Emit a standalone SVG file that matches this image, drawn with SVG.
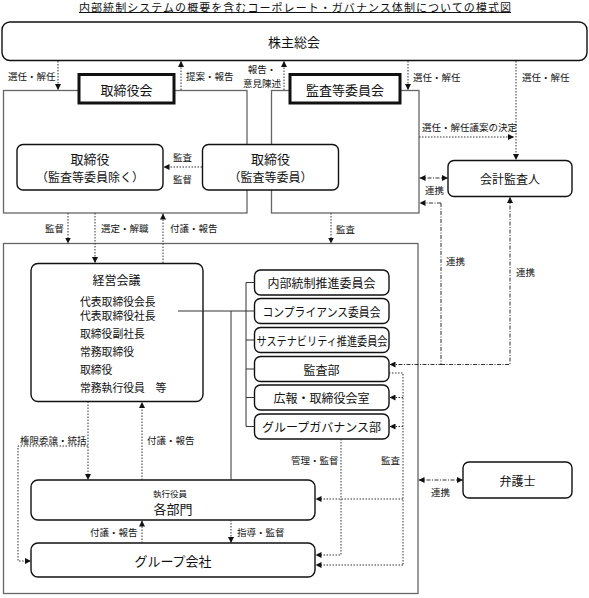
<svg xmlns="http://www.w3.org/2000/svg" width="589" height="598" viewBox="0 0 589 598">
<style>
text{font-family:"Noto Sans CJK JP","Noto Sans",sans-serif;fill:#111;dominant-baseline:central}
.t{font-size:10.8px}
.lbl{font-size:9.5px;text-anchor:start}
.m{text-anchor:middle}
.b13{font-size:13px;text-anchor:middle}
.b12{font-size:12px;text-anchor:middle}
.cont{fill:#fff;stroke:#666;stroke-width:1.3}
.head{fill:#fff;stroke:#111;stroke-width:3}
.node{fill:#fff;stroke:#111;stroke-width:1.4}
.dot{fill:none;stroke:#333;stroke-width:1;stroke-dasharray:1.5 1.5}
.dd{fill:none;stroke:#333;stroke-width:1;stroke-dasharray:4 1.5 1 1.5}
.sol{fill:none;stroke:#333;stroke-width:1}
</style>
<defs>
<marker id="ah" viewBox="0 0 6 6" refX="6" refY="3" markerWidth="6" markerHeight="6" markerUnits="userSpaceOnUse" orient="auto-start-reverse"><path d="M0,0 L6,3 L0,6 z" fill="#111"/></marker>
</defs>

<g id="title">
<text x="295" y="6.5" class="m" font-size="11" textLength="432" lengthAdjust="spacing">内部統制システムの概要を含むコーポレート・ガバナンス体制についての模式図</text>
<line x1="79" y1="12.5" x2="511" y2="12.5" stroke="#111" stroke-width="1"/>
</g>

<g id="shareholders">
<rect x="2" y="22" width="585" height="38.5" rx="8" class="node" stroke-width="2"/>
<text x="294" y="41" class="b13">株主総会</text>
</g>

<g id="board-container">
<rect x="3.5" y="90.5" width="243.5" height="122.5" class="cont"/>
</g>
<g id="board-head">
<rect x="79" y="74.5" width="95" height="28.5" class="head"/>
<text x="126.5" y="89" class="b13">取締役会</text>
</g>
<g id="audit-container">
<rect x="271.5" y="90.5" width="147.5" height="122.5" class="cont"/>
</g>
<g id="audit-head">
<rect x="290" y="74.5" width="110" height="28.5" class="head"/>
<text x="345" y="89" class="b13">監査等委員会</text>
</g>

<g id="directors">
<rect x="17" y="144.5" width="146" height="45.5" rx="6" class="node"/>
<text x="90" y="158.5" class="b13">取締役</text>
<text x="90" y="176.5" class="b12" font-size="11">（監査等委員除く）</text>
</g>
<g id="audit-directors">
<rect x="202.5" y="144.5" width="136" height="45.5" rx="6" class="node"/>
<text x="270.5" y="158.5" class="b13">取締役</text>
<text x="270.5" y="176.5" class="b12" font-size="11">（監査等委員）</text>
</g>

<g id="auditor">
<rect x="448" y="160.5" width="124" height="36" rx="6" class="node"/>
<text x="510" y="178.5" class="b12">会計監査人</text>
</g>

<g id="exec-container">
<rect x="3.5" y="243.5" width="414.5" height="350" class="cont"/>
</g>

<g id="mgmt-meeting">
<rect x="31" y="263.5" width="172" height="138" rx="7" class="node"/>
<text x="116.5" y="279" class="b12" font-size="12.5">経営会議</text>
<text x="80" y="301" class="t">代表取締役会長</text>
<text x="80" y="315" class="t">代表取締役社長</text>
<text x="80" y="332.5" class="t">取締役副社長</text>
<text x="80" y="350.5" class="t">常務取締役</text>
<text x="80" y="368.5" class="t">取締役</text>
<text x="80" y="386.5" class="t">常務執行役員　等</text>
</g>

<g id="c1"><rect x="254.5" y="270" width="134.5" height="25" rx="6" class="node"/><text x="321.5" y="282.5" class="b12">内部統制推進委員会</text></g>
<g id="c2"><rect x="254.5" y="298.5" width="134.5" height="25" rx="6" class="node"/><text x="321.5" y="311" class="b12" textLength="118" lengthAdjust="spacingAndGlyphs">コンプライアンス委員会</text></g>
<g id="c3"><rect x="254.5" y="327.5" width="134.5" height="25" rx="6" class="node"/><text x="322" y="340" class="b12" textLength="131" lengthAdjust="spacingAndGlyphs">サステナビリティ推進委員会</text></g>
<g id="c4"><rect x="254.5" y="356.5" width="134.5" height="25" rx="6" class="node"/><text x="321.5" y="369" class="b12">監査部</text></g>
<g id="c5"><rect x="254.5" y="385" width="134.5" height="25" rx="6" class="node"/><text x="321.5" y="397.5" class="b12">広報・取締役会室</text></g>
<g id="c6"><rect x="254.5" y="414" width="134.5" height="25" rx="6" class="node"/><text x="321.5" y="426.5" class="b12">グループガバナンス部</text></g>

<g id="divisions">
<rect x="31" y="480" width="284" height="40" rx="7" class="node"/>
<text x="170" y="492.5" class="m" font-size="8.5">執行役員</text>
<text x="173" y="508" class="b13">各部門</text>
</g>
<g id="group-companies">
<rect x="31" y="543" width="284" height="34" rx="7" class="node"/>
<text x="173" y="560" class="b13" font-size="12.5">グループ会社</text>
</g>
<g id="lawyer">
<rect x="463" y="462" width="109" height="36" rx="6" class="node"/>
<text x="517.5" y="480" class="b12">弁護士</text>
</g>

<g id="connectors">
<line x1="58" y1="61" x2="58" y2="90" class="dot" marker-end="url(#ah)"/>
<line x1="181" y1="90" x2="181" y2="61" class="dot" marker-end="url(#ah)"/>
<line x1="284" y1="90" x2="284" y2="61" class="dot" marker-end="url(#ah)"/>
<line x1="408" y1="61" x2="408" y2="90" class="dot" marker-end="url(#ah)"/>
<line x1="516" y1="61" x2="516" y2="160" class="dot" marker-end="url(#ah)"/>
<line x1="419" y1="137" x2="514" y2="137" class="dot" marker-end="url(#ah)"/>
<line x1="202" y1="167" x2="163.5" y2="167" class="dot" marker-end="url(#ah)"/>
<line x1="419.5" y1="178" x2="448" y2="178" class="dd" marker-start="url(#ah)" marker-end="url(#ah)"/>
<polyline points="441,203 441,364.5 389.5,364.5" class="dd" marker-end="url(#ah)"/>
<line x1="441" y1="203" x2="419.5" y2="203" class="dd" marker-end="url(#ah)"/>
<polyline points="441,364.5 510,364.5 510,197" class="dd" marker-end="url(#ah)"/>
<line x1="68" y1="213" x2="68" y2="243.5" class="dot" marker-end="url(#ah)"/>
<line x1="95" y1="213" x2="95" y2="263" class="dot" marker-end="url(#ah)"/>
<line x1="163" y1="263" x2="163" y2="213.5" class="dot" marker-end="url(#ah)"/>
<line x1="331" y1="213" x2="331" y2="243.5" class="dot" marker-end="url(#ah)"/>
<line x1="178" y1="311" x2="254.5" y2="311" class="sol"/>
<line x1="231" y1="311" x2="231" y2="480" class="sol"/>
<line x1="246" y1="282.5" x2="246" y2="426.5" class="sol"/>
<line x1="246" y1="282.5" x2="254.5" y2="282.5" class="sol"/>
<line x1="246" y1="340" x2="254.5" y2="340" class="sol"/>
<line x1="246" y1="369" x2="254.5" y2="369" class="sol"/>
<line x1="246" y1="397.5" x2="254.5" y2="397.5" class="sol"/>
<line x1="246" y1="426.5" x2="254.5" y2="426.5" class="sol"/>
<polyline points="389,373 403,373 403,565" class="dot"/>
<line x1="403" y1="397.5" x2="389.5" y2="397.5" class="dot" marker-end="url(#ah)"/>
<line x1="403" y1="426.5" x2="389.5" y2="426.5" class="dot" marker-end="url(#ah)"/>
<line x1="403" y1="499" x2="315.5" y2="499" class="dot" marker-end="url(#ah)"/>
<line x1="403" y1="565" x2="315.5" y2="565" class="dot" marker-end="url(#ah)"/>
<polyline points="341,439 341,555 315.5,555" class="dot" marker-end="url(#ah)"/>
<line x1="88" y1="401.5" x2="88" y2="480" class="dot" marker-end="url(#ah)"/>
<polyline points="88,446 18,446 18,561 31,561" class="dot" marker-end="url(#ah)"/>
<line x1="142" y1="480" x2="142" y2="402" class="dot" marker-end="url(#ah)"/>
<line x1="142" y1="543" x2="142" y2="520.5" class="dot" marker-end="url(#ah)"/>
<line x1="231" y1="520" x2="231" y2="543" class="dot" marker-end="url(#ah)"/>
<line x1="418.5" y1="480" x2="463" y2="480" class="dd" marker-start="url(#ah)" marker-end="url(#ah)"/>
</g>

<g id="labels">
<text x="8" y="76" class="lbl">選任・解任</text>
<text x="186" y="76" class="lbl">提案・報告</text>
<text x="262" y="69" class="lbl m">報告・</text>
<text x="262" y="82.5" class="lbl m">意見陳述</text>
<text x="413" y="77" class="lbl">選任・解任</text>
<text x="522" y="77" class="lbl">選任・解任</text>
<text x="422" y="127" class="lbl">選任・解任議案の決定</text>
<text x="173" y="157" class="lbl">監査</text>
<text x="173" y="178.5" class="lbl">監督</text>
<text x="425" y="190" class="lbl">連携</text>
<text x="45" y="228" class="lbl">監督</text>
<text x="101" y="228" class="lbl">選定・解職</text>
<text x="170" y="228" class="lbl">付議・報告</text>
<text x="336" y="229" class="lbl">監査</text>
<text x="446" y="261" class="lbl">連携</text>
<text x="516" y="272" class="lbl">連携</text>
<text x="20" y="440" class="lbl">権限委譲・統括</text>
<text x="147" y="440" class="lbl">付議・報告</text>
<text x="291" y="460" class="lbl">管理・監督</text>
<text x="381" y="460" class="lbl">監査</text>
<text x="431" y="492" class="lbl">連携</text>
<text x="90" y="532" class="lbl">付議・報告</text>
<text x="237" y="532" class="lbl">指導・監督</text>
</g>
</svg>
